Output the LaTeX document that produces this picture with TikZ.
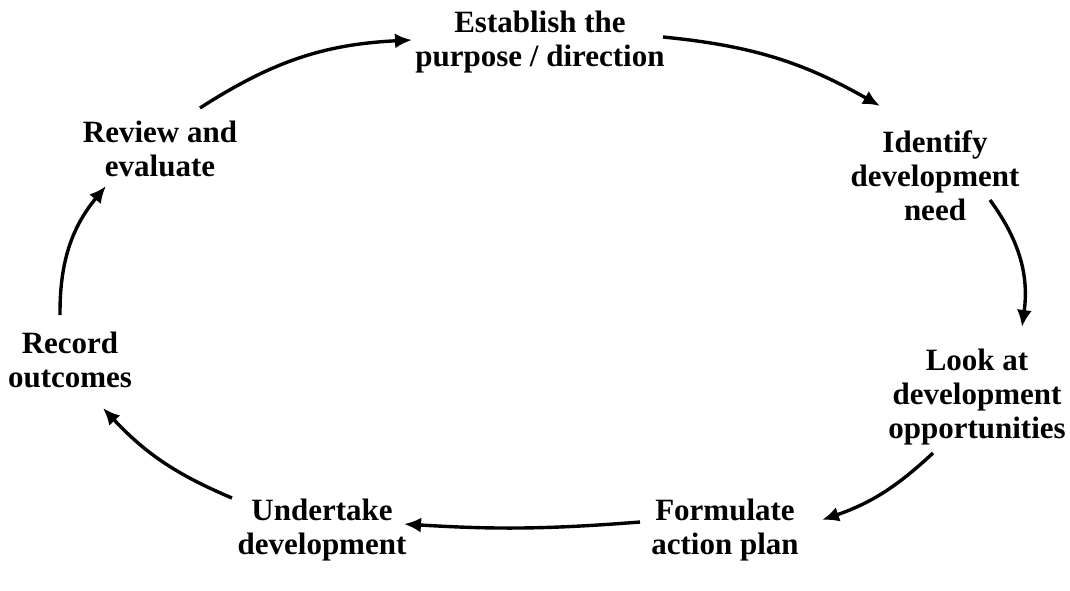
\documentclass[tikz,border=0pt]{standalone}
\usepackage{fontspec}
\setmainfont{Liberation Serif}
\usetikzlibrary{arrows.meta}
\begin{document}
\begin{tikzpicture}[x=1pt,y=-1pt,
  lbl/.style={align=center,inner sep=0pt,font=\bfseries\fontsize{31}{34}\selectfont},
  arr/.style={line width=3.4pt,-{Latex[length=17pt,width=15pt]}}]
\useasboundingbox (0,0) rectangle (1070,590);
\node[lbl] (est) at (540,42) {Establish the\\purpose / direction};
\node[lbl] (ide) at (935,176) {Identify\\development\\need};
\node[lbl] (look) at (977,397) {Look at\\development\\opportunities};
\node[lbl] (form) at (725,530) {Formulate\\action plan};
\node[lbl] (und) at (322,530) {Undertake\\development};
\node[lbl] (rec) at (70,360) {Record\\outcomes};
\node[lbl] (rev) at (160,149) {Review and\\evaluate};
\coordinate (a1) at (200,108); \coordinate (b1) at (412,40);
\coordinate (a2) at (663,37);  \coordinate (b2) at (880,106);
\coordinate (a3) at (990,200); \coordinate (b3) at (1022,327);
\coordinate (a4) at (933,453); \coordinate (b4) at (822,520);
\coordinate (a5) at (640,522); \coordinate (b5) at (404,524);
\coordinate (a6) at (232,498); \coordinate (b6) at (103,408);
\coordinate (a7) at (60,315);  \coordinate (b7) at (106,186);
\draw[arr] (a1) to[bend left=15] (b1);
\draw[arr] (a2) to[bend left=12] (b2);
\draw[arr] (a3) to[bend left=22] (b3);
\draw[arr] (a4) to[bend left=12] (b4);
\draw[arr] (a5) to[bend left=4] (b5);
\draw[arr] (a6) to[bend left=12] (b6);
\draw[arr] (a7) to[bend left=20] (b7);
\end{tikzpicture}
\end{document}
